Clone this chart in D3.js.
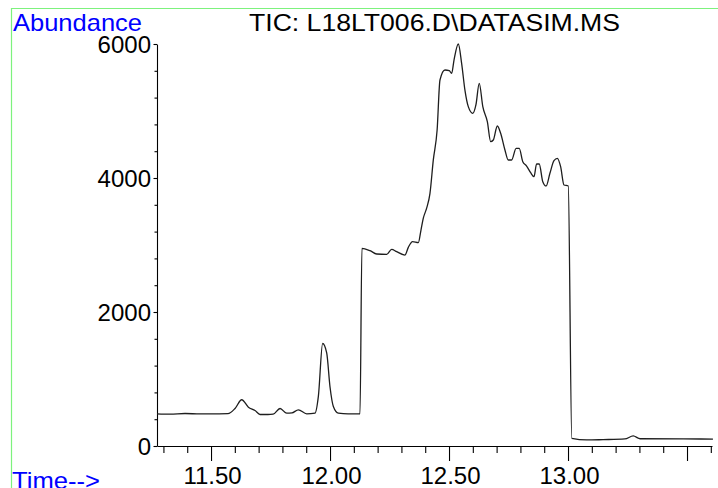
<!DOCTYPE html>
<html>
<head>
<meta charset="utf-8">
<script src="https://cdn.jsdelivr.net/npm/d3@7"></script>
<style>
  html, body { margin: 0; padding: 0; background: #fff; }
  svg { display: block; }
  text { font-family: "Liberation Sans", Arial, Helvetica, sans-serif; }
</style>
</head>
<body>
<svg id="chart" width="718" height="488"></svg>
<script>
// Total ion chromatogram: retention time (min) vs. abundance
const times = [
  11.273, 11.328, 11.391, 11.454, 11.517, 11.571, 11.601, 11.629, 11.657, 11.685,
  11.706, 11.739, 11.761, 11.790, 11.818, 11.840, 11.867, 11.902, 11.937, 11.951,
  11.969, 11.986, 12.000, 12.014, 12.035, 12.076, 12.126, 12.134, 12.168, 12.196,
  12.238, 12.259, 12.280, 12.315, 12.329, 12.347, 12.371, 12.382, 12.392, 12.406,
  12.420, 12.434, 12.450, 12.462, 12.483, 12.501, 12.511, 12.521, 12.539, 12.553,
  12.567, 12.581, 12.600, 12.613, 12.627, 12.642, 12.661, 12.675, 12.686, 12.703,
  12.717, 12.735, 12.749, 12.763, 12.782, 12.795, 12.810, 12.826, 12.843, 12.857,
  12.868, 12.879, 12.894, 12.908, 12.924, 12.941, 12.955, 12.969, 12.983, 13.001,
  13.016, 13.079, 13.147, 13.239, 13.274, 13.303, 13.485, 13.609
];
const abundance = [
  480, 475, 485, 478, 480, 482, 560, 690, 580, 530,
  470, 470, 475, 560, 490, 495, 540, 480, 490, 740,
  1530, 1390, 880, 590, 490, 480, 480, 2950, 2915, 2866,
  2860, 2935, 2900, 2850, 2965, 3050, 3035, 3220, 3400, 3550,
  3771, 4270, 4716, 5463, 5612, 5602, 5562, 5761, 6000, 5712,
  5308, 5065, 4965, 5090, 5413, 5065, 4841, 4542, 4567, 4776,
  4667, 4418, 4269, 4269, 4443, 4443, 4244, 4179, 4079, 4020,
  4209, 4209, 3945, 3881, 4070, 4259, 4294, 4169, 3896, 3881,
  115, 90, 95, 105, 150, 108, 105, 104
];

const yTickValues = [0, 2000, 4000, 6000];
const yMinorValues = [400, 800, 1200, 1600, 2400, 2800, 3200, 3600, 4400, 4800, 5200, 5600];
const xMajorValues = [11.5, 12.0, 12.5, 13.0, 13.5];
const xTickLabels = ["11.50", "12.00", "12.50", "13.00", ""];
const xMinorValues = [11.3, 11.4, 11.6, 11.7, 11.8, 11.9, 12.1, 12.2, 12.3, 12.4,
                      12.6, 12.7, 12.8, 12.9, 13.1, 13.2, 13.3, 13.4, 13.6];

const titleText = "TIC: L18LT006.D\\DATASIM.MS";
const yLabel = "Abundance";
const xLabel = "Time-->";

const svg = d3.select("#chart");

// frame lines
svg.append("line").attr("x1", 11).attr("x2", 718).attr("y1", 8.5).attr("y2", 8.5)
  .attr("stroke", "#7df27d").attr("stroke-width", 1.2);
svg.append("line").attr("x1", 11.5).attr("x2", 11.5).attr("y1", 8).attr("y2", 488)
  .attr("stroke", "#7df27d").attr("stroke-width", 1.2);

const x = d3.scaleLinear().domain([11.273, 13.605]).range([157, 712]);
const y = d3.scaleLinear().domain([0, 6000]).range([446, 44]);

const fontSize = 24;

// x axis: minor then major ticks
const gxMinor = svg.append("g").attr("transform", "translate(0,446)")
  .call(d3.axisBottom(x).tickValues(xMinorValues).tickSize(7).tickSizeOuter(0).tickFormat(""));
gxMinor.select(".domain").remove();

const gx = svg.append("g").attr("transform", "translate(0,446)")
  .call(d3.axisBottom(x).tickValues(xMajorValues).tickSize(15).tickSizeOuter(0)
    .tickFormat((d, i) => xTickLabels[i]));
gx.selectAll("text").attr("font-size", fontSize).attr("fill", "#000")
  .attr("y", 0).attr("dy", null).attr("transform", "translate(1,38)")
  .attr("font-family", "Liberation Sans, Arial, sans-serif");

// y axis
const gyMinor = svg.append("g").attr("transform", "translate(157,0)")
  .call(d3.axisLeft(y).tickValues(yMinorValues).tickSize(2.5).tickSizeOuter(0).tickFormat(""));
gyMinor.select(".domain").remove();

const gy = svg.append("g").attr("transform", "translate(157,0)")
  .call(d3.axisLeft(y).tickValues(yTickValues).tickSize(3.5).tickSizeOuter(0)
    .tickFormat(d3.format("d")));
gy.selectAll("text").attr("font-size", fontSize).attr("fill", "#000")
  .attr("x", -6).attr("dy", "0.36em")
  .attr("font-family", "Liberation Sans, Arial, sans-serif");

svg.selectAll(".domain, .tick line").attr("stroke", "#000").attr("stroke-width", 1.1);

// chromatogram trace
const pts = times.map((t, i) => [t, abundance[i]]);
svg.append("path")
  .datum(pts)
  .attr("fill", "none")
  .attr("stroke", "#1e1e1e")
  .attr("stroke-width", 1.3)
  .attr("stroke-linejoin", "round")
  .attr("d", d3.line().curve(d3.curveMonotoneX).x(d => x(d[0])).y(d => y(d[1])));

// labels
svg.append("text").attr("x", 13).attr("y", 31)
  .attr("font-size", fontSize).attr("fill", "#0000ff")
  .attr("textLength", 129).attr("lengthAdjust", "spacingAndGlyphs")
  .text(yLabel);

svg.append("text").attr("x", 249).attr("y", 31)
  .attr("font-size", fontSize).attr("fill", "#000")
  .attr("textLength", 371).attr("lengthAdjust", "spacingAndGlyphs")
  .text(titleText);

svg.append("text").attr("x", 12).attr("y", 489)
  .attr("font-size", fontSize).attr("fill", "#0000ff")
  .attr("textLength", 88).attr("lengthAdjust", "spacingAndGlyphs")
  .text(xLabel);
</script>
</body>
</html>
